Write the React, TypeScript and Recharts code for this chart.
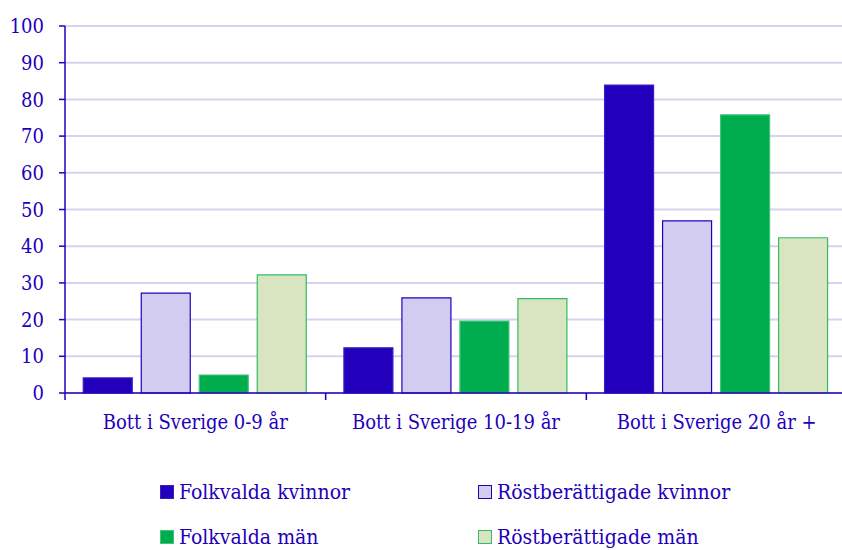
import React from 'react';
import { BarChart, Bar, XAxis, YAxis, CartesianGrid, Legend } from 'recharts';

const categories = ['Bott i Sverige 0-9 år', 'Bott i Sverige 10-19 år', 'Bott i Sverige 20 år +'];
const folkvaldaKvinnor = [4.1, 12.3, 83.9];
const rostKvinnor = [27.2, 25.9, 46.9];
const folkvaldaMan = [4.9, 19.6, 75.8];
const rostMan = [32.2, 25.7, 42.3];
const yTicks = [0, 10, 20, 30, 40, 50, 60, 70, 80, 90, 100];

const data = categories.map((c, i) => ({
  name: c,
  fk: folkvaldaKvinnor[i],
  rk: rostKvinnor[i],
  fm: folkvaldaMan[i],
  rm: rostMan[i],
}));

const series = [
  { key: 'fk', name: 'Folkvalda kvinnor', fill: '#2200BB', stroke: '#3A1CC8' },
  { key: 'rk', name: 'Röstberättigade kvinnor', fill: '#D2CDF0', stroke: '#2200BB' },
  { key: 'fm', name: 'Folkvalda män', fill: '#00AD4E', stroke: '#40C47A' },
  { key: 'rm', name: 'Röstberättigade män', fill: '#D9E4C0', stroke: '#33BB66' },
];

const FONT = '"DejaVu Serif Condensed", "DejaVu Serif", serif';
const TXT = '#2200BB';
const X_TICK = 7;
const X_MARGIN = 15;

const XTick = (props: any) => {
  const { x, y, payload, index } = props;
  const half = payload && payload.offset ? payload.offset : 130;
  const axisY = y - X_TICK - X_MARGIN;
  return (
    <g>
      <line x1={x - half} x2={x - half} y1={axisY} y2={axisY + X_TICK} stroke={TXT} strokeWidth={1.5} />
      {index === categories.length - 1 && (
        <line x1={x + half} x2={x + half} y1={axisY} y2={axisY + X_TICK} stroke={TXT} strokeWidth={1.5} />
      )}
      <text x={x} y={y} dy="0.71em" textAnchor="middle" fill={TXT} fontFamily={FONT} fontSize={20}>
        {payload.value}
      </text>
    </g>
  );
};

const LegendContent = () => {
  const order = [[0, 1], [2, 3]];
  return (
    <div style={{ position: 'relative', height: 117, width: 842, fontFamily: FONT, fontSize: 21, color: TXT }}>
      {order.map((row, r) =>
        row.map((si, c) => {
          const s = series[si];
          return (
            <div
              key={s.key}
              style={{
                position: 'absolute',
                left: c === 0 ? 160 : 478,
                top: r === 0 ? 46 : 91,
                display: 'flex',
                alignItems: 'center',
                whiteSpace: 'nowrap',
                lineHeight: '26px',
              }}
            >
              <span
                style={{
                  display: 'inline-block',
                  width: 12,
                  height: 12,
                  background: s.fill,
                  border: `1.5px solid ${s.stroke}`,
                  marginRight: 5,
                }}
              />
              {s.name}
            </div>
          );
        })
      )}
    </div>
  );
};

export default function App() {
  return (
    <div style={{ position: 'absolute', left: 0, top: 0, width: 842, height: 550, overflow: 'hidden', background: '#fff' }}>
      <BarChart
        width={847}
        height={550}
        data={data}
        margin={{ top: 26, right: 0, bottom: 0, left: 0 }}
        barCategoryGap="7%"
        barGap={9}
      >
        <CartesianGrid vertical={false} stroke="#D5D3EF" strokeWidth={2} />
        <XAxis
          dataKey="name"
          height={40}
          tickLine={false}
          tickSize={X_TICK}
          tickMargin={X_MARGIN}
          axisLine={{ stroke: TXT, strokeWidth: 1.5 }}
          tick={<XTick />}
        />
        <YAxis
          width={65}
          domain={[0, 100]}
          ticks={yTicks}
          interval={0}
          tickSize={6}
          tickMargin={15}
          axisLine={{ stroke: TXT, strokeWidth: 1.5 }}
          tickLine={{ stroke: TXT, strokeWidth: 1.5 }}
          tick={{ fill: TXT, fontFamily: FONT, fontSize: 20 }}
        />
        <Legend verticalAlign="bottom" content={<LegendContent />} />
        {series.map((s) => (
          <Bar
            key={s.key}
            dataKey={s.key}
            name={s.name}
            fill={s.fill}
            stroke={s.stroke}
            strokeWidth={1.2}
            isAnimationActive={false}
          />
        ))}
      </BarChart>
    </div>
  );
}
